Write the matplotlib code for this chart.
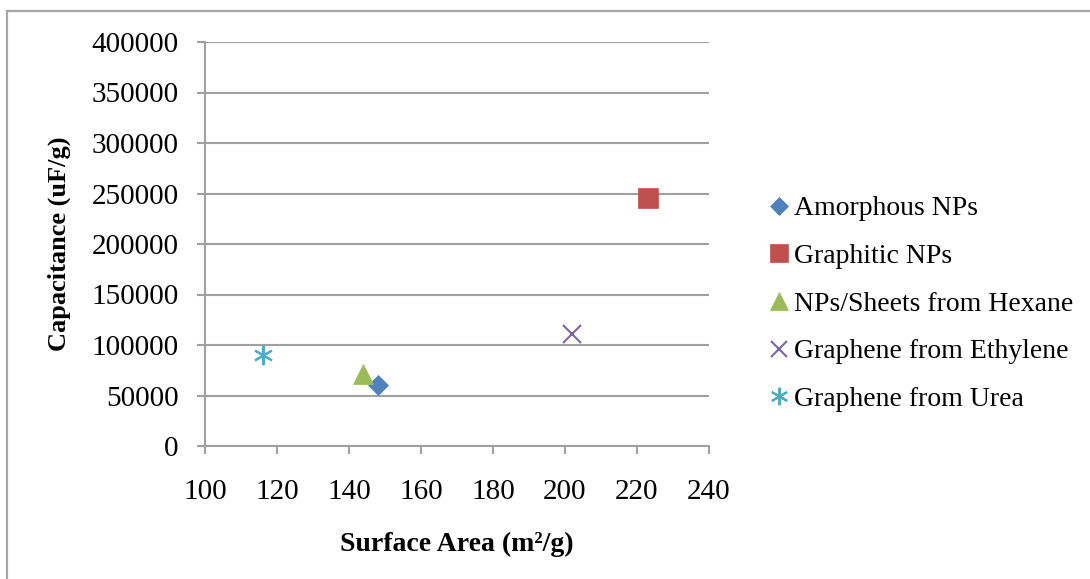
import matplotlib
matplotlib.use("Agg")
import matplotlib.pyplot as plt
from matplotlib.lines import Line2D

# Data
series_names = ["Amorphous NPs", "Graphitic NPs", "NPs/Sheets from Hexane",
                "Graphene from Ethylene", "Graphene from Urea"]
surface_area = [148, 223, 144, 202, 116]
capacitance = [60000, 246000, 71000, 111000, 90000]
x_ticks = [100, 120, 140, 160, 180, 200, 220, 240]
y_ticks = [0, 50000, 100000, 150000, 200000, 250000, 300000, 350000, 400000]

colors = ["#4F81BD", "#C0504D", "#9BBB59", "#8064A2", "#4BACC6"]
markers = ["D", "s", "^", "x", (6, 2, 0)]
msizes = [10.5, 14.5, 14, 13.5, 14]

FONT = "Liberation Serif"
plt.rcParams["font.family"] = FONT
FS = 20

W, H = 1090, 579
fig = plt.figure(figsize=(W / 100, H / 100), dpi=100)
ax = fig.add_axes([205 / W, 1 - 446 / H, (709 - 205) / W, (446 - 42) / H])

for name, x, y, c, m, ms in zip(series_names, surface_area, capacitance, colors, markers, msizes):
    if m in ("x",) or isinstance(m, tuple):
        ax.plot([x], [y], linestyle="none", marker=m, markersize=ms, color=c,
                markeredgewidth=1.5, label=name)
    else:
        ax.plot([x], [y], linestyle="none", marker=m, markersize=ms, color=c,
                markeredgecolor=c, markeredgewidth=0.5, label=name)

ax.set_xlim(100, 240)
ax.set_ylim(0, 400000)
ax.set_xticks(x_ticks)
ax.set_yticks(y_ticks)
ax.set_xticklabels([str(v) for v in x_ticks])
ax.set_yticklabels([str(v) for v in y_ticks])

grid_c = "#A0A0A0"
ax.yaxis.grid(True, color=grid_c, linewidth=1.5)
ax.set_axisbelow(True)
for s in ["top", "right"]:
    ax.spines[s].set_visible(False)
for s in ["left", "bottom"]:
    ax.spines[s].set_color(grid_c)
    ax.spines[s].set_linewidth(1.5)
ax.tick_params(axis="both", direction="out", length=6, width=1.5, color=grid_c,
               labelsize=21)
ax.tick_params(axis="y", pad=13)
ax.tick_params(axis="x", pad=18)

ax.set_xlabel("Surface Area (m²/g)", fontsize=FS, fontweight="bold", labelpad=19)
ax.set_ylabel("Capacitance (uF/g)", fontsize=19, fontweight="bold", labelpad=15)

leg = fig.legend(loc="center left", bbox_to_anchor=(757 / W, 1 - 304 / H),
                 frameon=False, fontsize=FS, handlelength=0.8, handletextpad=0.15,
                 labelspacing=0.8, borderaxespad=0, markerscale=0.9)

# outer chart border
bc = "#A6A6A6"
fig.add_artist(Line2D([7 / W, 1.0], [1 - 11 / H, 1 - 11 / H], color=bc, linewidth=1.6,
                      transform=fig.transFigure))
fig.add_artist(Line2D([7 / W, 7 / W], [1 - 11 / H, 0.0], color=bc, linewidth=1.6,
                      transform=fig.transFigure))

fig.savefig("out.png", dpi=100)
